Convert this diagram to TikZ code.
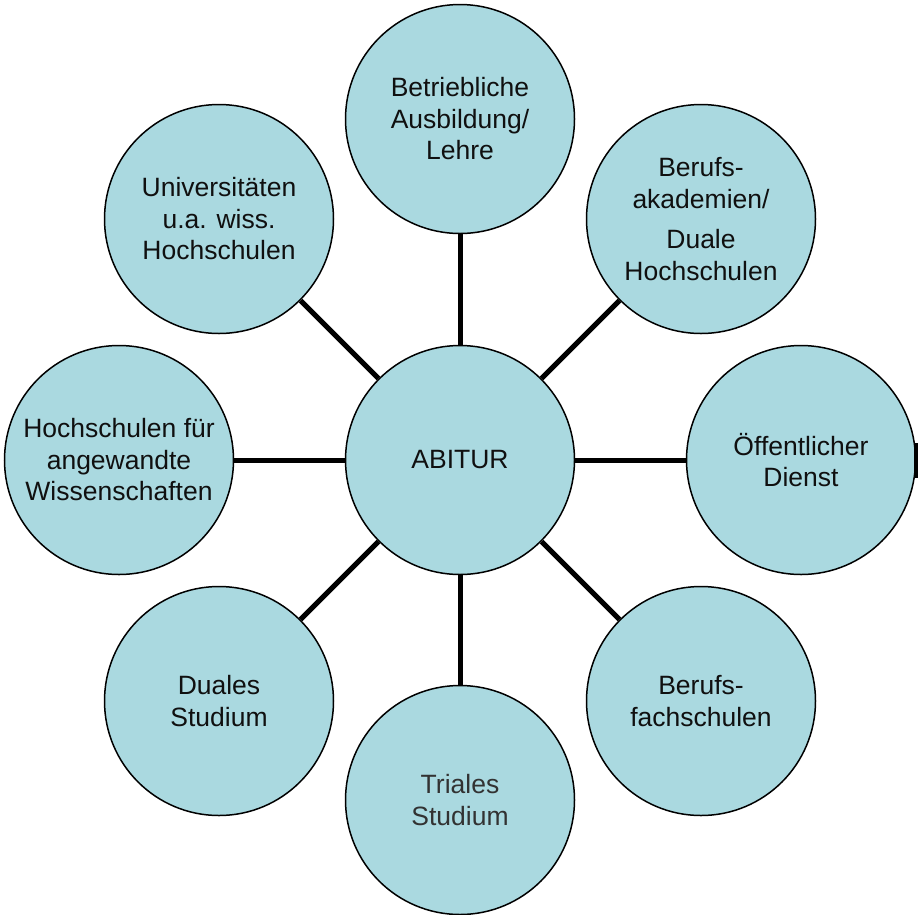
\documentclass[tikz,border=0pt]{standalone}
\usepackage{fontspec}
\setmainfont{Liberation Sans}
\definecolor{bubble}{RGB}{170,217,224}
\definecolor{ink}{RGB}{16,16,16}
\definecolor{softink}{RGB}{50,50,50}
\begin{document}
\begin{tikzpicture}[x=1pt,y=-1pt,
  bubble/.style={circle, draw=black, line width=1.5pt, fill=bubble,
    minimum size=229pt, inner sep=0pt, align=center, text=ink,
    font=\fontsize{26.5}{31.5}\selectfont},
  spoke/.style={line width=5pt, black}]
\useasboundingbox (0,0) rectangle (918,914);

% centre and the eight destinations around it
\node[bubble] (abi) at (460,460) {ABITUR};
\node[bubble] (top) at (460,119) {Betriebliche\\Ausbildung/\\Lehre};
\node[bubble] (ba)  at (701,219) {Berufs-\\akademien/\\[9pt]Duale\\Hochschulen};
\node[bubble] (od)  at (801,460) {Öffentlicher\\Dienst};
\node[bubble] (bfs) at (701,701) {Berufs-\\fachschulen};
\node[bubble, text=softink] (tri) at (460,800) {Triales\\Studium};
\node[bubble] (dua) at (219,701) {Duales\\Studium};
\node[bubble] (haw) at (119,460) {Hochschulen für\\angewandte\\Wissenschaften};
\node[bubble] (uni) at (219,219) {Universitäten\\u.a. wiss.\\Hochschulen};

% spokes from the centre
\foreach \n in {top,ba,od,bfs,tri,dua,haw,uni}
  \draw[spoke] (abi) -- (\n);

% short bar at the right edge
\coordinate (stubA) at (916,443);
\coordinate (stubB) at (916,478);
\draw[line width=4pt] (stubA) -- (stubB);
\end{tikzpicture}
\end{document}
